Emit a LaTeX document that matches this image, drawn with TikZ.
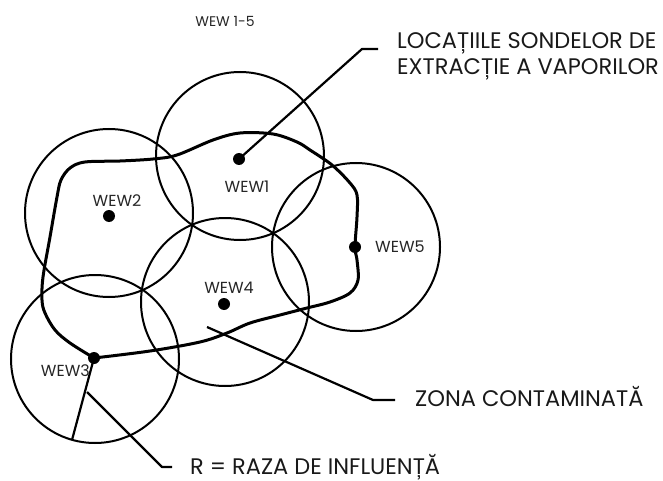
\documentclass[tikz,border=0pt]{standalone}
\usepackage{fontspec}
\setmainfont{Poppins}
\begin{document}
\begin{tikzpicture}[x=1pt,y=-1pt,
  zone/.style={draw, circle, line width=2pt, minimum size=168pt, inner sep=0pt},
  well/.style={circle, fill=black, minimum size=12pt, inner sep=0pt},
  wlabel/.style={font=\fontsize{16}{18}\selectfont, text=black!85, inner sep=0pt},
  big/.style={font=\fontsize{22.5}{26}\selectfont, text=black!90, inner sep=0pt, anchor=west, align=left},
  leader/.style={line width=2.2pt, line join=round},
  bound/.style={line width=3pt, line join=round, line cap=round}
]
\useasboundingbox (0,0) rectangle (663,481);

% zones of influence
\node[zone] (c1) at (240,156) {};
\node[zone] (c2) at (109,213) {};
\node[zone] (c3) at (95,359) {};
\node[zone] (c4) at (225,302) {};
\node[zone] (c5) at (356,247) {};

% contaminated zone boundary
\draw[bound] plot[smooth, tension=0.55] coordinates {
 (94,358) (150,351) (200,342) (227,333) (250,323) (280,315) (307,308) (330,302)
 (350,293) (358,280) (357,260) (355,247) (357,217) (357,195) (350,183) (332,165)
 (310,150) (297,142) (273,134) (240,133) (213,140) (177,155) (153,159) (120,161)
 (85,162) (70,168) (61,180) (57,197) (50,237) (43,277) (42,300) (45,313) (55,330)
 (70,343) (94,358)};

% wells
\node[well] (w1) at (239,159) {};
\node[well] (w2) at (109,216) {};
\node[well] (w3) at (94,358) {};
\node[well] (w4) at (224,304) {};
\node[well] (w5) at (355,247) {};

% well labels
\node[wlabel] (l1) at (247,187) {WEW1};
\node[wlabel] (l2) at (117,201) {WEW2};
\node[wlabel, anchor=east] (l3) at (90,371) {WEW3};
\node[wlabel] (l4) at (229,288) {WEW4};
\node[wlabel, anchor=west] (l5) at (375,247) {WEW5};
\node[wlabel, font=\fontsize{14}{16}\selectfont] (title) at (225,21) {WEW 1-5};

% big labels
\node[big] (loc) at (397,56) {LOCAȚIILE SONDELOR DE\\EXTRACȚIE A VAPORILOR};
\node[big] (zona) at (415,397) {ZONA CONTAMINATĂ};
\node[big] (raza) at (190,467) {R = RAZA DE INFLUENȚĂ};

% radius
\coordinate (rEnd) at (72,440);
\draw[leader] (w3.center) -- (rEnd);

% leaders
\coordinate (k1) at (362,49);
\coordinate (e1) at (378,49);
\draw[leader] (w1.center) -- (k1) -- (e1);

\coordinate (s2) at (207,327);
\coordinate (k2) at (373,400);
\coordinate (e2) at (395,400);
\draw[leader] (s2) -- (k2) -- (e2);

\coordinate (s3) at (87,392);
\coordinate (k3) at (162,467);
\coordinate (e3) at (172,467);
\draw[leader] (s3) -- (k3) -- (e3);
\end{tikzpicture}
\end{document}
